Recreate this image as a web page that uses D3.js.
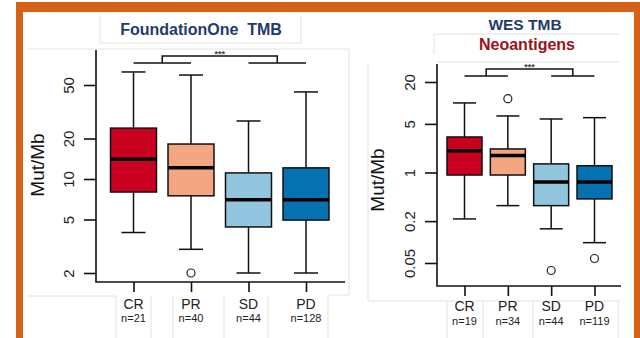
<!DOCTYPE html>
<html>
<head>
<meta charset="utf-8">
<script src="https://cdn.jsdelivr.net/npm/d3@7"></script>
<style>
body{margin:0;background:#fff;}
svg{display:block;font-family:"Liberation Sans",Arial,sans-serif;}
</style>
</head>
<body>
<svg id="chart" width="640" height="338"></svg>
<script>
// response groups and colours
var groups = ["CR", "PR", "SD", "PD"];
var boxColors = ["#ca0020", "#f4a582", "#92c5de", "#0571b0"];

// FoundationOne TMB (Mut/Mb)
var f1N = [21, 40, 44, 128];
var f1Low = [4.0, 3.0, 2.0, 2.0];
var f1Q1 = [8.0, 7.5, 4.4, 4.95];
var f1Median = [14.0, 12.1, 7.0, 7.0];
var f1Q3 = [23.9, 18.2, 11.1, 12.1];
var f1High = [62.5, 59.3, 27.0, 44.4];
var f1Outliers = [[], [2.0], [], []];
var f1Ticks = [2, 5, 10, 20, 50];

// WES TMB (Mut/Mb)
var wesN = [19, 34, 44, 119];
var wesLow = [0.215, 0.334, 0.155, 0.098];
var wesQ1 = [0.92, 0.92, 0.334, 0.417];
var wesMedian = [2.06, 1.75, 0.73, 0.73];
var wesQ3 = [3.24, 2.18, 1.33, 1.25];
var wesHigh = [10.0, 6.5, 5.88, 6.14];
var wesOutliers = [[], [11.5], [0.039], [0.058]];
var wesTicks = [0.05, 0.2, 1, 5, 20];

var svg = d3.select("#chart");
var grid = "#e2e2e2";

function gline(x1, y1, x2, y2){
	svg.append("line")
		.attr("x1", x1).attr("y1", y1).attr("x2", x2).attr("y2", y2)
		.attr("stroke", grid).attr("stroke-width", 1);
}

// faint slide table lines
gline(100, 15, 100, 43); gline(100, 43, 301, 43); gline(301, 15, 301, 43);
gline(27, 49, 349, 49); gline(349, 49, 349, 295); gline(328, 295, 349, 295);
gline(27, 296, 116, 296);
[116, 151, 173, 224, 268, 328].forEach(function(x){ gline(x, 296, x, 338); });
gline(434, 34, 434, 54); gline(434, 34, 620, 34); gline(437, 62, 620, 62);
gline(368, 63, 368, 301); gline(368, 301, 620, 301);
[447, 483, 533, 618].forEach(function(x){ gline(x, 302, x, 338); });

function drawPanel(p)
{
	var y = d3.scaleLog().domain(p.yDomain).range(p.yRange);
	var x = d3.scalePoint().domain(groups).range(p.xRange);
	var g = svg.append("g");

	// L shaped frame
	g.append("path")
		.attr("d", "M" + p.axisX + "," + p.top + "V" + p.axisY + "H" + p.right)
		.attr("fill", "none").attr("stroke", "#111").attr("stroke-width", 1.6);

	// y axis ticks
	var ya = g.append("g")
		.attr("transform", "translate(" + p.axisX + ",0)")
		.call(d3.axisLeft(y).tickValues(p.ticks).tickSize(12).tickFormat(d3.format("~g")));
	ya.select(".domain").remove();
	ya.selectAll(".tick line").attr("stroke", "#111").attr("stroke-width", 1.6);
	ya.selectAll(".tick text")
		.attr("transform", "rotate(-90)")
		.attr("x", 0).attr("y", -22)
		.attr("dy", 0)
		.attr("text-anchor", "middle")
		.attr("fill", "#222")
		.style("font-size", "15px")
		.style("font-family", "'Liberation Sans',Arial,sans-serif");

	// x axis ticks
	var xa = g.append("g")
		.attr("transform", "translate(0," + p.axisY + ")")
		.call(d3.axisBottom(x).tickSize(10).tickFormat(""));
	xa.select(".domain").remove();
	xa.selectAll(".tick line").attr("stroke", "#111").attr("stroke-width", 1.6);

	// y label
	g.append("text")
		.attr("transform", "translate(" + p.labelX + "," + p.labelY + ") rotate(-90)")
		.attr("text-anchor", "middle")
		.attr("fill", "#111")
		.style("font-size", "19px")
		.text("Mut/Mb");

	// boxes
	var hw = p.boxW / 2, cw = p.capW / 2;
	groups.forEach(function(k, i){
		var cx = x(k);
		g.append("line")
			.attr("x1", cx).attr("x2", cx)
			.attr("y1", y(p.high[i])).attr("y2", y(p.q3[i]))
			.attr("stroke", "#111").attr("stroke-width", 1.5);
		g.append("line")
			.attr("x1", cx).attr("x2", cx)
			.attr("y1", y(p.q1[i])).attr("y2", y(p.low[i]))
			.attr("stroke", "#111").attr("stroke-width", 1.5);
		[p.high[i], p.low[i]].forEach(function(v){
			g.append("line")
				.attr("x1", cx - cw).attr("x2", cx + cw)
				.attr("y1", y(v)).attr("y2", y(v))
				.attr("stroke", "#111").attr("stroke-width", 1.5);
		});
		g.append("rect")
			.attr("x", cx - hw).attr("width", p.boxW)
			.attr("y", y(p.q3[i])).attr("height", y(p.q1[i]) - y(p.q3[i]))
			.attr("fill", boxColors[i])
			.attr("stroke", "#111").attr("stroke-width", 1.5);
		g.append("line")
			.attr("x1", cx - hw).attr("x2", cx + hw)
			.attr("y1", y(p.median[i])).attr("y2", y(p.median[i]))
			.attr("stroke", "#000").attr("stroke-width", 3.5);
		p.outliers[i].forEach(function(v){
			g.append("circle")
				.attr("cx", cx).attr("cy", y(v)).attr("r", 4)
				.attr("fill", "#fff").attr("stroke", "#222").attr("stroke-width", 1.2);
		});
		// category labels
		g.append("text")
			.attr("x", cx).attr("y", p.catY)
			.attr("text-anchor", "middle").attr("fill", "#222")
			.style("font-size", "14px")
			.text(k);
		g.append("text")
			.attr("x", cx).attr("y", p.catY + p.nGap)
			.attr("text-anchor", "middle").attr("fill", "#222")
			.style("font-size", "11px")
			.text("n=" + p.n[i]);
	});

	// significance bracket
	var l1 = x("CR"), l2 = x("PR"), r1 = x("SD"), r2 = x("PD");
	var m1 = (l1 + l2) / 2, m2 = (r1 + r2) / 2;
	g.append("path")
		.attr("d", "M" + l1 + "," + p.brLow + "H" + l2 +
			"M" + r1 + "," + p.brLow + "H" + r2 +
			"M" + m1 + "," + p.brLow + "V" + p.brTop + "H" + m2 + "V" + p.brLow)
		.attr("fill", "none").attr("stroke", "#111").attr("stroke-width", 1.5);
	g.append("text")
		.attr("x", (m1 + m2) / 2).attr("y", p.brTop + 1)
		.attr("text-anchor", "middle").attr("fill", "#444")
		.style("font-size", "9px").style("font-weight", "bold")
		.text("***");
}

drawPanel({
	yDomain: [2, 50], yRange: [273, 85], xRange: [133.5, 306],
	axisX: 96, axisY: 282, top: 50, right: 345,
	ticks: f1Ticks, labelX: 44, labelY: 165,
	boxW: 46, capW: 24,
	low: f1Low, q1: f1Q1, median: f1Median, q3: f1Q3, high: f1High, outliers: f1Outliers,
	n: f1N, catY: 309, nGap: 13,
	brLow: 63, brTop: 56
});

drawPanel({
	yDomain: [0.05, 20], yRange: [263, 82], xRange: [464.5, 594.5],
	axisX: 437, axisY: 286, top: 64, right: 621,
	ticks: wesTicks, labelX: 384, labelY: 180,
	boxW: 35, capW: 23,
	low: wesLow, q1: wesQ1, median: wesMedian, q3: wesQ3, high: wesHigh, outliers: wesOutliers,
	n: wesN, catY: 311, nGap: 14,
	brLow: 76, brTop: 69
});

// titles
svg.append("text")
	.attr("x", 201).attr("y", 35)
	.attr("text-anchor", "middle").attr("fill", "#1f3a6e")
	.style("font-size", "16px").style("font-weight", "bold")
	.style("white-space", "pre")
	.text("FoundationOne  TMB");
svg.append("text")
	.attr("x", 525).attr("y", 30)
	.attr("text-anchor", "middle").attr("fill", "#1f3a6e")
	.style("font-size", "15.5px").style("font-weight", "bold")
	.text("WES TMB");
svg.append("text")
	.attr("x", 527).attr("y", 50)
	.attr("text-anchor", "middle").attr("fill", "#9b1117")
	.style("font-size", "16px").style("font-weight", "bold")
	.text("Neoantigens");

// orange frame
var orange = "#d66217";
svg.append("rect").attr("x", 16).attr("y", 2).attr("width", 620).attr("height", 10).attr("fill", orange);
svg.append("rect").attr("x", 16).attr("y", 2).attr("width", 7).attr("height", 336).attr("fill", orange);
svg.append("rect").attr("x", 634).attr("y", 2).attr("width", 6).attr("height", 336).attr("fill", orange);
</script>
</body>
</html>
